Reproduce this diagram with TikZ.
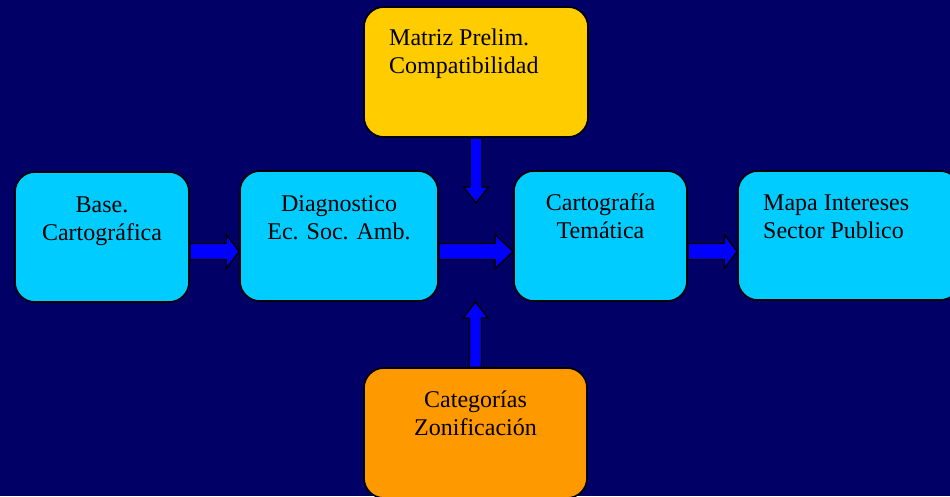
\documentclass[tikz,border=0pt]{standalone}
\usepackage{fontspec}
\setmainfont{Liberation Serif}
\usetikzlibrary{calc}
\definecolor{bgnavy}{HTML}{000066}
\definecolor{boxcyan}{HTML}{00CCFF}
\definecolor{boxyellow}{HTML}{FFCC00}
\definecolor{boxorange}{HTML}{FF9900}
\definecolor{arrblue}{HTML}{0000FF}
\tikzset{
  stagebox/.style={draw=black, line width=1.6pt, rounded corners=20pt, minimum width=#1, inner sep=0pt, minimum height=130pt},
  label/.style={font=\fontsize{24}{28}\selectfont, inner sep=0pt, text=black},
  barrow/.style={draw=black, line width=1.4pt, fill=arrblue, line join=miter}
}
\newcommand\harr[3]{%
  \draw[barrow] let \p1=(#1),\p2=(#2) in
   (\x1,\y1+8pt) -- (\x2-#3,\y1+8pt) -- (\x2-#3,\y1+17pt) -- (\x2,\y1)
   -- (\x2-#3,\y1-17pt) -- (\x2-#3,\y1-8pt) -- (\x1,\y1-8pt) -- cycle;}
\newcommand\varr[3]{%
  \draw[barrow] let \p1=(#1),\p2=(#2) in
   (\x1-6pt,\y1) -- (\x1-6pt,\y2+#3) -- (\x1-12.5pt,\y2+#3) -- (\x2,\y2)
   -- (\x1+12.5pt,\y2+#3) -- (\x1+6pt,\y2+#3) -- (\x1+6pt,\y1) -- cycle;}
\begin{document}
\begin{tikzpicture}[x=1pt,y=-1pt]
\useasboundingbox (0,0) rectangle (950,496);
\clip (0,0) rectangle (950,496);
\fill[bgnavy] (0,0) rectangle (950,496);
% boxes
\node[stagebox=174pt, fill=boxcyan] (base) at (102,237) {};
\node[stagebox=198pt, fill=boxcyan] (diag) at (339,236) {};
\node[stagebox=173pt, fill=boxcyan] (carto) at (600.5,236) {};
\node[stagebox=222pt, minimum height=129pt, fill=boxcyan] (mapa) at (849,235.5) {};
\node[stagebox=224pt, fill=boxyellow] (matriz) at (476,72) {};
\node[stagebox=223pt, fill=boxorange] (categ) at (475.5,433) {};
% texts (anchor = baseline of the last line)
\node[label, align=center, anchor=base] (tbase) at (102,240) {Base.\\Cartográfica};
\node[label, align=center, anchor=base] (tdiag) at (339,239) {Diagnostico\\Ec. Soc. Amb.};
\node[label, align=center, anchor=base] (tcarto) at (600.5,238.5) {Cartografía\\Temática};
\node[label, align=left, anchor=base west] (tmapa) at (763,238.5) {Mapa Intereses\\Sector Publico};
\node[label, align=left, anchor=base west] (tmatriz) at (389,73.5) {Matriz Prelim.\\Compatibilidad};
\node[label, align=center, anchor=base] (tcateg) at (475.5,435.5) {Categorías\\Zonificación};
% arrow endpoints
\coordinate (a1s) at (base.east |- 0,251.5);
\coordinate (a1e) at (diag.west |- 0,251.5);
\coordinate (a2s) at (diag.east |- 0,251.5);
\coordinate (a2e) at (carto.west |- 0,251.5);
\coordinate (a3s) at (carto.east |- 0,251.5);
\coordinate (a3e) at (mapa.west |- 0,251.5);
\coordinate (d1s) at (matriz.south);
\coordinate (d1t) at (476,203);
\coordinate (u1s) at (categ.north);
\coordinate (u1t) at (475.5,302);
\harr{a1s}{a1e}{13pt}
\harr{a2s}{a2e}{18pt}
\harr{a3s}{a3e}{13pt}
\varr{d1s}{d1t}{16pt}
\varr{u1s}{u1t}{-16pt}
\end{tikzpicture}
\end{document}
